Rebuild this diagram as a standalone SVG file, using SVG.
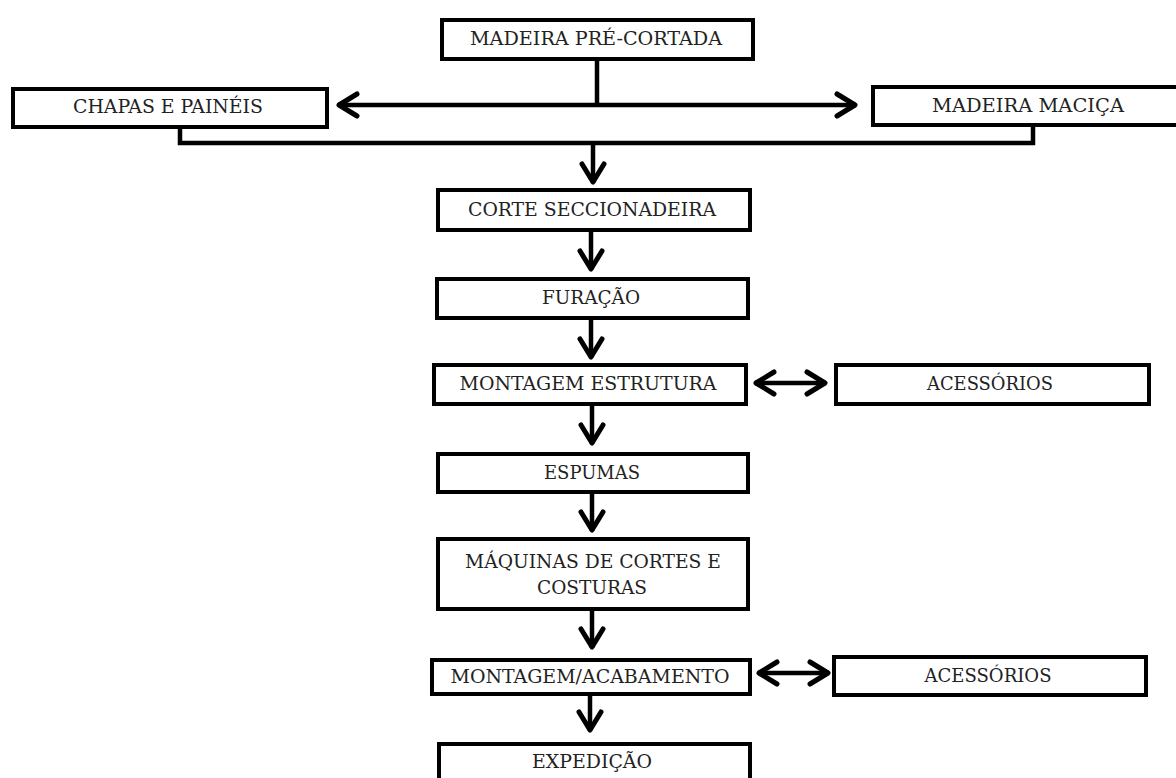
<svg xmlns="http://www.w3.org/2000/svg" width="1176" height="778" viewBox="0 0 1176 778">
  <style>
    .box { fill: #ffffff; stroke: #000000; stroke-width: 4; }
    .lbl { font-family: "DejaVu Serif Condensed", "DejaVu Serif", "Liberation Serif", serif; font-size: 18px; fill: #222222; text-anchor: middle; }
    .con { fill: none; stroke: #000000; stroke-width: 4.5; }
    .arr { marker-end: url(#head); }
    .dbl { marker-start: url(#head); marker-end: url(#head); }
  </style>
  <defs>
    <marker id="head" markerUnits="userSpaceOnUse" viewBox="0 0 26 28" markerWidth="26" markerHeight="28" refX="22" refY="14" orient="auto-start-reverse">
      <path d="M3,3 L21,14 L3,25" fill="none" stroke="#000000" stroke-width="5" stroke-linejoin="round" stroke-linecap="round"/>
    </marker>
  </defs>
  <rect width="1176" height="778" fill="#ffffff"/>

  <g id="connectors">
    <path class="con" d="M597,61 V105"/>
    <path class="con dbl" d="M338,105 H856"/>
    <path class="con" d="M180,129 V143 H1033 V127"/>
    <path class="con arr" d="M593,143 V183"/>
    <path class="con arr" d="M591,232 V270"/>
    <path class="con arr" d="M591,320 V358"/>
    <path class="con dbl" d="M755,383 H826"/>
    <path class="con arr" d="M592,406 V444"/>
    <path class="con arr" d="M592,494 V531"/>
    <path class="con arr" d="M592,611 V648"/>
    <path class="con dbl" d="M758,673 H829"/>
    <path class="con arr" d="M590,696 V731"/>
  </g>

  <g id="madeira-pre-cortada">
    <rect class="box" x="442" y="20" width="311" height="39"/>
    <text class="lbl" x="596" y="45" textLength="252" lengthAdjust="spacingAndGlyphs">MADEIRA PRÉ-CORTADA</text>
  </g>
  <g id="chapas-paineis">
    <rect class="box" x="13" y="89" width="314" height="38"/>
    <text class="lbl" x="168" y="113" textLength="190" lengthAdjust="spacingAndGlyphs">CHAPAS E PAINÉIS</text>
  </g>
  <g id="madeira-macica">
    <rect class="box" x="873" y="87" width="310" height="38"/>
    <text class="lbl" x="1028" y="112" textLength="192" lengthAdjust="spacingAndGlyphs">MADEIRA MACIÇA</text>
  </g>
  <g id="corte-seccionadeira">
    <rect class="box" x="438" y="190" width="312" height="40"/>
    <text class="lbl" x="592" y="216" textLength="248" lengthAdjust="spacingAndGlyphs">CORTE SECCIONADEIRA</text>
  </g>
  <g id="furacao">
    <rect class="box" x="437" y="279" width="311" height="39"/>
    <text class="lbl" x="591" y="304" textLength="98" lengthAdjust="spacingAndGlyphs">FURAÇÃO</text>
  </g>
  <g id="montagem-estrutura">
    <rect class="box" x="434" y="365" width="312" height="39"/>
    <text class="lbl" x="588" y="390" textLength="257" lengthAdjust="spacingAndGlyphs">MONTAGEM ESTRUTURA</text>
  </g>
  <g id="acessorios-1">
    <rect class="box" x="836" y="365" width="313" height="39"/>
    <text class="lbl" x="990" y="390" textLength="126" lengthAdjust="spacingAndGlyphs">ACESSÓRIOS</text>
  </g>
  <g id="espumas">
    <rect class="box" x="438" y="454" width="310" height="38"/>
    <text class="lbl" x="592" y="479" textLength="96" lengthAdjust="spacingAndGlyphs">ESPUMAS</text>
  </g>
  <g id="maquinas-cortes-costuras">
    <rect class="box" x="438" y="539" width="310" height="70"/>
    <text class="lbl" x="593" y="568" textLength="256" lengthAdjust="spacingAndGlyphs">MÁQUINAS DE CORTES E</text>
    <text class="lbl" x="592" y="594" textLength="110" lengthAdjust="spacingAndGlyphs">COSTURAS</text>
  </g>
  <g id="montagem-acabamento">
    <rect class="box" x="432" y="660" width="318" height="34"/>
    <text class="lbl" x="590" y="683" textLength="279" lengthAdjust="spacingAndGlyphs">MONTAGEM/ACABAMENTO</text>
  </g>
  <g id="acessorios-2">
    <rect class="box" x="834" y="657" width="312" height="38"/>
    <text class="lbl" x="988" y="682" textLength="127" lengthAdjust="spacingAndGlyphs">ACESSÓRIOS</text>
  </g>
  <g id="expedicao">
    <rect class="box" x="439" y="744" width="311" height="60"/>
    <text class="lbl" x="592" y="768" textLength="120" lengthAdjust="spacingAndGlyphs">EXPEDIÇÃO</text>
  </g>
</svg>
